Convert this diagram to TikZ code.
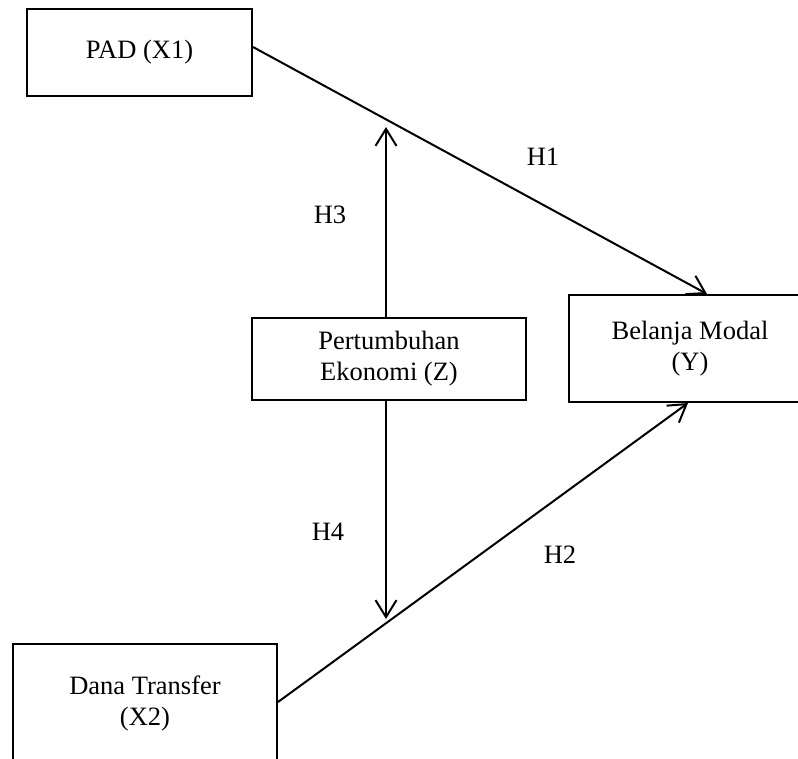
\documentclass[tikz,border=0pt]{standalone}
\usepackage{fontspec}
\setmainfont{Liberation Serif}
\usetikzlibrary{arrows.meta}
\begin{document}
\begin{tikzpicture}[x=1pt,y=-1pt,
  every node/.style={font=\fontsize{26.5}{31}\selectfont},
  varbox/.style={draw, line width=2pt, rectangle, inner sep=0pt, align=center},
  lbl/.style={inner sep=0pt},
  conn/.style={line width=2pt, -{Straight Barb[length=17pt,width=21pt]}}]
\clip (0,0) rectangle (798,758);
\useasboundingbox (0,0) rectangle (798,758);
\node[varbox, minimum width=225pt, minimum height=87pt] (pad) at (139.5,52.5) {PAD (X1)};
\node[varbox, minimum width=274pt, minimum height=82pt] (z) at (389,359) {Pertumbuhan\\Ekonomi (Z)};
\node[varbox, minimum width=242pt, minimum height=107pt] (y) at (690,348.5) {Belanja Modal\\(Y)};
\node[varbox, minimum width=264pt, minimum height=118pt] (x2) at (145,703) {Dana Transfer\\(X2)};
\coordinate (t3) at (386,127);
\coordinate (t4) at (386,619);
\draw[conn] ([yshift=5.5pt]pad.east) -- ([xshift=17pt]y.north);
\draw[conn] ([yshift=1pt]x2.east) -- ([xshift=-2pt]y.south);
\draw[conn] ([xshift=-3pt]z.north) -- (t3);
\draw[conn] ([xshift=-3pt]z.south) -- (t4);
\node[lbl] (h1) at (543,157) {H1};
\node[lbl] (h3) at (330,215) {H3};
\node[lbl] (h4) at (328,532) {H4};
\node[lbl] (h2) at (560,555) {H2};
\end{tikzpicture}
\end{document}
